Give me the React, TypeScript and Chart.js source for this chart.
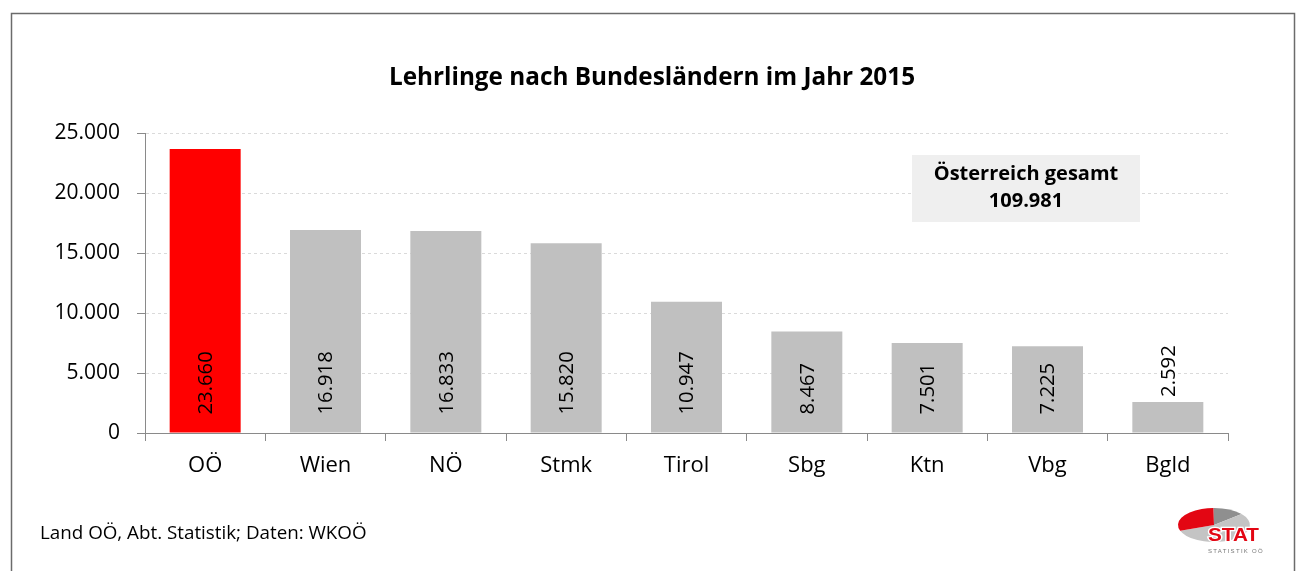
import React, { useEffect, useRef } from "react";
import { Chart, registerables } from "chart.js";

Chart.register(...registerables);

const chartTitle = "Lehrlinge nach Bundesländern im Jahr 2015";
const categories = ["OÖ", "Wien", "NÖ", "Stmk", "Tirol", "Sbg", "Ktn", "Vbg", "Bgld"];
const values = [23660, 16918, 16833, 15820, 10947, 8467, 7501, 7225, 2592];
const highlightCategory = "OÖ";
const yMin = 0;
const yMax = 25000;
const yStep = 5000;
const totalLabel = "Österreich gesamt";
const totalValue = 109981;
const footerText = "Land OÖ, Abt. Statistik; Daten: WKOÖ";
const logoText = "STAT";
const logoSubText = "STATISTIK OÖ";

const FONT = "'Open Sans', Lato, 'DejaVu Sans', sans-serif";

const fmt = (n: number) =>
  String(Math.round(n)).replace(/\B(?=(\d{3})+(?!\d))/g, ".");

const framePlugin = {
  id: "frame",
  beforeDraw(chart: any) {
    const ctx = chart.ctx;
    ctx.save();
    ctx.fillStyle = "#ffffff";
    ctx.fillRect(0, 0, chart.width, chart.height);
    // outer border
    ctx.strokeStyle = "#6b6b6b";
    ctx.lineWidth = 1.5;
    ctx.beginPath();
    ctx.moveTo(11.5, chart.height + 5);
    ctx.lineTo(11.5, 13.5);
    ctx.lineTo(1294.5, 13.5);
    ctx.lineTo(1294.5, chart.height + 5);
    ctx.stroke();
    // title
    ctx.fillStyle = "#000";
    ctx.font = `bold 24.3px ${FONT}`;
    ctx.textAlign = "center";
    ctx.textBaseline = "middle";
    ctx.fillText(chartTitle, 652, 78);
    // footer
    ctx.font = `18.8px ${FONT}`;
    ctx.textAlign = "left";
    ctx.fillText(footerText, 40, 534);
    // logo
    const cx = 1214, cy = 525, rx = 36, ry = 17;
    const sector = (a0: number, a1: number, color: string) => {
      ctx.beginPath();
      ctx.moveTo(cx, cy);
      ctx.ellipse(cx, cy, rx, ry, 0, a0, a1, false);
      ctx.closePath();
      ctx.fillStyle = color;
      ctx.fill();
    };
    const d = Math.PI / 180;
    sector(-91 * d, -40 * d, "#8f8f8f");
    sector(-40 * d, 160 * d, "#c4c4c4");
    sector(160 * d, 269 * d, "#e30613");
    ctx.save();
    ctx.translate(1208, 541);
    ctx.scale(1.15, 1);
    ctx.font = `bold 18px Arial, 'Liberation Sans', sans-serif`;
    ctx.textAlign = "left";
    ctx.textBaseline = "alphabetic";
    ctx.lineWidth = 2.5;
    ctx.strokeStyle = "#ffffff";
    ctx.strokeText(logoText, 0, 0);
    ctx.fillStyle = "#e30613";
    ctx.fillText(logoText, 0, 0);
    ctx.restore();
    ctx.font = `6px Arial, 'Liberation Sans', sans-serif`;
    ctx.fillStyle = "#777";
    (ctx as any).letterSpacing = "1.3px";
    ctx.textAlign = "left";
    ctx.textBaseline = "alphabetic";
    ctx.fillText(logoSubText, 1208, 553);
    (ctx as any).letterSpacing = "0px";
    ctx.restore();
  },
  afterDraw(chart: any) {
    const ctx = chart.ctx;
    ctx.save();
    // total annotation box (drawn over the grid)
    ctx.fillStyle = "#efefef";
    ctx.fillRect(912, 155, 228, 67);
    ctx.fillStyle = "#000";
    ctx.font = `bold 20px ${FONT}`;
    ctx.textAlign = "center";
    ctx.textBaseline = "middle";
    ctx.fillText(totalLabel, 1026, 174);
    ctx.fillText(fmt(totalValue), 1026, 201);
    ctx.restore();
  },
};

const labelPlugin = {
  id: "barLabels",
  afterDatasetsDraw(chart: any) {
    const ctx = chart.ctx;
    const meta = chart.getDatasetMeta(0);
    ctx.save();
    ctx.fillStyle = "#000";
    ctx.font = `20.3px ${FONT}`;
    ctx.textBaseline = "middle";
    ctx.textAlign = "left";
    meta.data.forEach((bar: any, i: number) => {
      const text = fmt(values[i]);
      const tw = ctx.measureText(text).width;
      const height = bar.base - bar.y;
      let start: number;
      if (height > tw + 26) start = bar.base - 18;
      else start = bar.y - 5;
      ctx.save();
      ctx.translate(bar.x, start);
      ctx.rotate(-Math.PI / 2);
      ctx.fillText(text, 0, 1);
      ctx.restore();
    });
    ctx.restore();
  },
};

export default function App() {
  const ref = useRef<HTMLCanvasElement | null>(null);
  useEffect(() => {
    document.body.style.margin = "0";
    document.body.style.overflow = "hidden";
    const canvas = ref.current!;
    const chart = new Chart(canvas, {
      type: "bar",
      data: {
        labels: categories,
        datasets: [
          {
            data: values,
            backgroundColor: categories.map((c) =>
              c === highlightCategory ? "#ff0000" : "#c0c0c0"
            ),
            borderWidth: 0,
            categoryPercentage: 1,
            barPercentage: 0.59,
          },
        ],
      },
      options: {
        animation: false,
        responsive: false,
        devicePixelRatio: 1,
        layout: { padding: { top: 133, right: 71, left: 0, bottom: 0 } },
        plugins: {
          legend: { display: false },
          title: { display: false },
          tooltip: { enabled: false },
        },
        scales: {
          x: {
            offset: true,
            grid: {
              offset: true,
              drawOnChartArea: false,
              drawTicks: true,
              tickLength: 8,
              tickColor: "#8a8a8a",
              lineWidth: 1,
            },
            border: { display: true, color: "#8a8a8a", width: 1 },
            ticks: {
              color: "#000",
              font: { family: FONT, size: 22 },
              padding: 12,
              maxRotation: 0,
              autoSkip: false,
            },
            afterFit(scale: any) {
              scale.height = 138;
            },
          },
          y: {
            min: yMin,
            max: yMax,
            grid: {
              color: "#dadada",
              lineWidth: 1,
              tickBorderDash: [],
              tickColor: "#8a8a8a",
              tickLength: 8,
              drawTicks: true,
            },
            border: { display: true, color: "#8a8a8a", width: 1, dash: [3, 3] },
            ticks: {
              stepSize: yStep,
              color: "#000",
              font: { family: FONT, size: 21 },
              padding: 17,
              callback: (v: any) => fmt(Number(v)),
            },
            afterFit(scale: any) {
              scale.width = 145;
            },
          },
        },
      } as any,
      plugins: [framePlugin, labelPlugin],
    });
    return () => chart.destroy();
  }, []);
  return <canvas ref={ref} width={1299} height={571} style={{ display: "block" }} />;
}
